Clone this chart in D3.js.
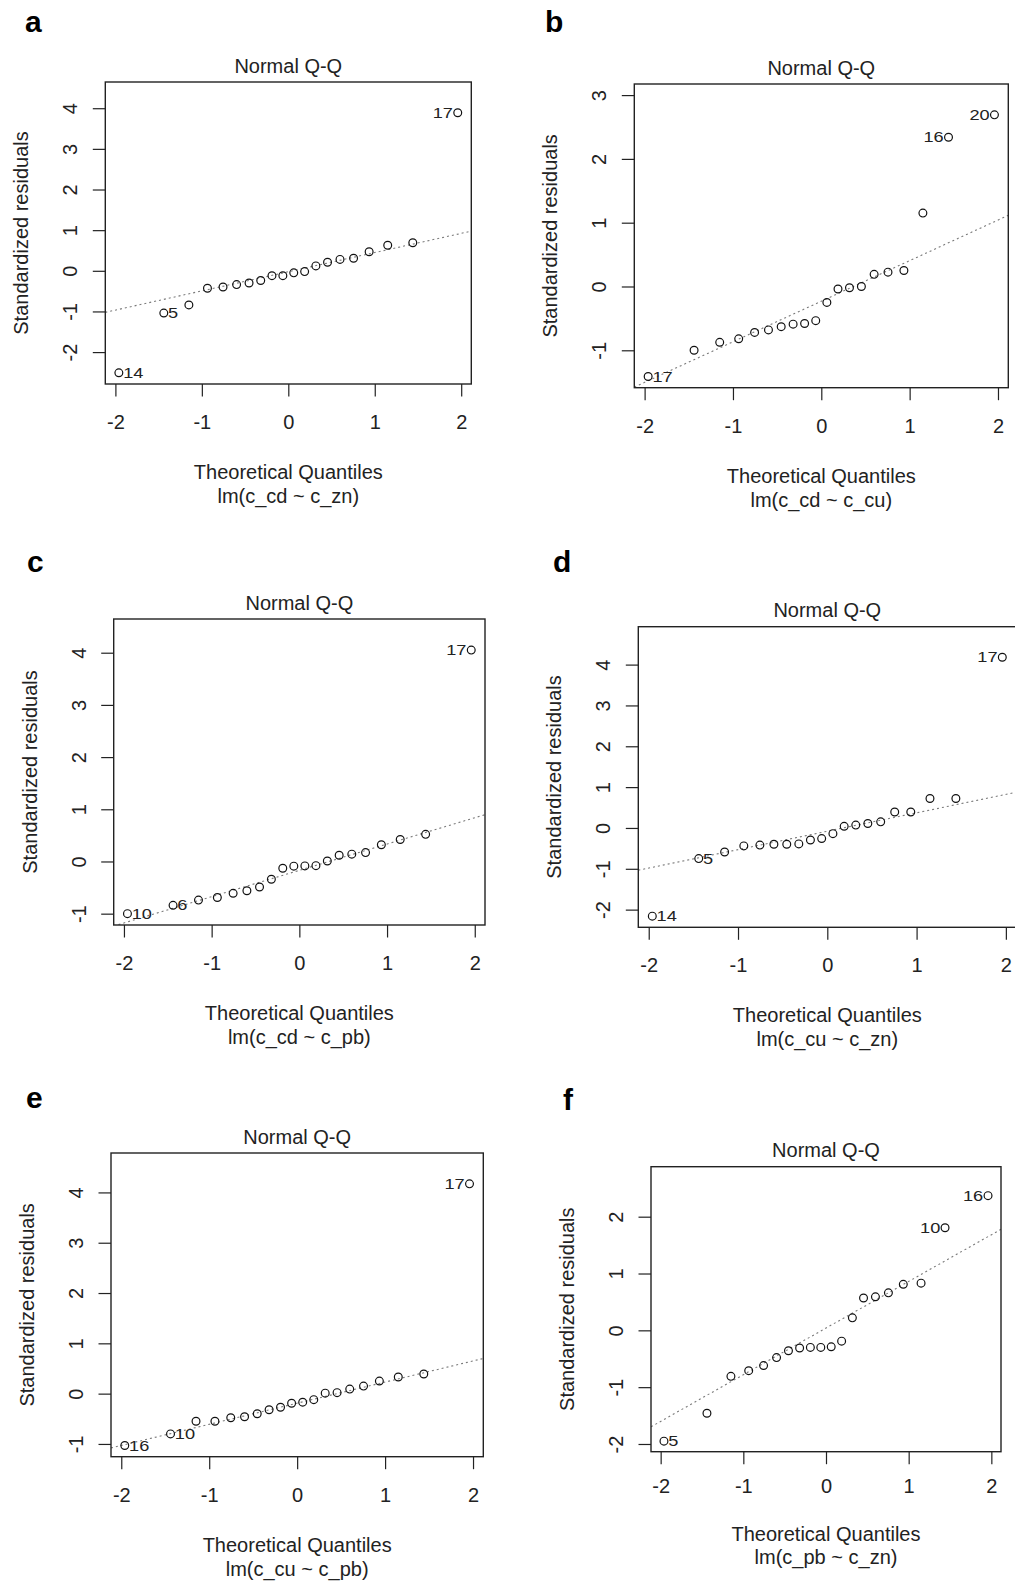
<!DOCTYPE html>
<html lang="en">
<head>
<meta charset="UTF-8">
<title>Normal Q-Q</title>
<script src="https://cdn.jsdelivr.net/npm/d3@7"></script>
<style>
  body { margin: 0; background: #fff; }
  text { font-family: "Liberation Sans", Arial, sans-serif; fill: #222; }
</style>
</head>
<body>
<script>
// theoretical quantiles (same 20 x positions in every panel)
var quantiles = [-1.96, -1.44, -1.15, -0.935, -0.755, -0.598, -0.454, -0.319, -0.189, -0.063,
                 0.063, 0.189, 0.319, 0.454, 0.598, 0.755, 0.935, 1.15, 1.44, 1.96];

// standardized residuals (sorted)
var residA = [-2.51, -1.04, -0.84, -0.43, -0.40, -0.34, -0.30, -0.24, -0.12, -0.12,
              -0.05, -0.02, 0.12, 0.21, 0.28, 0.31, 0.47, 0.63, 0.69, 3.89];
var residB = [-1.41, -1.00, -0.875, -0.82, -0.72, -0.68, -0.63, -0.59, -0.58, -0.535,
              -0.25, -0.04, -0.02, 0.00, 0.19, 0.225, 0.25, 1.15, 2.34, 2.69];
var residC = [-1.00, -0.84, -0.74, -0.69, -0.61, -0.56, -0.49, -0.34, -0.13, -0.09,
              -0.085, -0.08, 0.01, 0.12, 0.14, 0.17, 0.32, 0.42, 0.52, 4.05];
var residD = [-2.16, -0.75, -0.59, -0.44, -0.42, -0.40, -0.40, -0.39, -0.295, -0.26,
              -0.14, 0.04, 0.07, 0.11, 0.15, 0.39, 0.39, 0.72, 0.72, 4.18];
var residE = [-1.03, -0.80, -0.55, -0.55, -0.48, -0.46, -0.40, -0.32, -0.27, -0.19,
              -0.17, -0.12, 0.01, 0.02, 0.09, 0.15, 0.25, 0.33, 0.39, 4.17];
var residF = [-1.95, -1.46, -0.81, -0.71, -0.62, -0.48, -0.36, -0.31, -0.30, -0.30,
              -0.29, -0.19, 0.22, 0.57, 0.59, 0.66, 0.81, 0.83, 1.805, 2.37];

// qq reference lines: [intercept, slope]
var lineA = [-0.023, 0.472];
var lineB = [-0.231, 0.636];
var lineC = [-0.17, 0.504];
var lineD = [-0.08, 0.451];
var lineE = [-0.19, 0.42];
var lineF = [0.04, 0.821];

// labelled points: index in sorted list -> observation number
var idsA = [[0, "14"], [1, "5"], [19, "17"]];
var idsB = [[0, "17"], [18, "16"], [19, "20"]];
var idsC = [[0, "10"], [1, "6"], [19, "17"]];
var idsD = [[0, "14"], [1, "5"], [19, "17"]];
var idsE = [[0, "16"], [1, "10"], [19, "17"]];
var idsF = [[0, "5"], [18, "10"], [19, "16"]];

var xTicks = [-2, -1, 0, 1, 2];
var yTicksA = [-2, -1, 0, 1, 2, 3, 4];
var yTicksB = [-1, 0, 1, 2, 3];
var yTicksC = [-1, 0, 1, 2, 3, 4];
var yTicksD = [-2, -1, 0, 1, 2, 3, 4];
var yTicksE = [-1, 0, 1, 2, 3, 4];
var yTicksF = [-2, -1, 0, 1, 2];

var letters = ["a", "b", "c", "d", "e", "f"];
var models = ["lm(c_cd ~ c_zn)", "lm(c_cd ~ c_cu)", "lm(c_cd ~ c_pb)",
              "lm(c_cu ~ c_zn)", "lm(c_cu ~ c_pb)", "lm(c_pb ~ c_zn)"];

// plot boxes in page pixels, and where the letters sit
var boxes = [
  {l: 105.3, r: 471.3, t: 82,    b: 384,    lx: 25,  ly: 32,   tk: 45,   xt: 95,   xs: 119},
  {l: 634.3, r: 1008.3, t: 84,   b: 387.7,  lx: 545, ly: 32,   tk: 45,   xt: 95,   xs: 119},
  {l: 113.7, r: 485,   t: 619,   b: 925,    lx: 27,  ly: 572,  tk: 45,   xt: 95,   xs: 119},
  {l: 638.3, r: 1016.3, t: 626.7, b: 927.3, lx: 553, ly: 572,  tk: 45,   xt: 95,   xs: 119},
  {l: 111,   r: 483.3, t: 1153,  b: 1456.7, lx: 26,  ly: 1108, tk: 45,   xt: 95,   xs: 119},
  {l: 651,   r: 1001,  t: 1166.7, b: 1451.7, lx: 563, ly: 1110, tk: 41.5, xt: 89.5, xs: 112.5}
];

var resids = [residA, residB, residC, residD, residE, residF];
var lines = [lineA, lineB, lineC, lineD, lineE, lineF];
var ids = [idsA, idsB, idsC, idsD, idsE, idsF];
var yTicks = [yTicksA, yTicksB, yTicksC, yTicksD, yTicksE, yTicksF];

var width = 1015, height = 1589;
var svg = d3.select("body").append("svg")
    .attr("width", width).attr("height", height);
svg.append("rect").attr("width", width).attr("height", height).attr("fill", "#fff");

var fs = 20;

resids.forEach(function(res, k) {
  var bx = boxes[k];
  // R style limits: extra 7.5% on top for labels, then 4% padding
  var ymin = d3.min(res), ymax = d3.max(res);
  ymax = ymax + (ymax - ymin) * 0.075;
  var yr = ymax - ymin;
  var xmin = d3.min(quantiles), xmax = d3.max(quantiles), xr = xmax - xmin;

  var x = d3.scaleLinear().domain([xmin - 0.04 * xr, xmax + 0.04 * xr]).range([bx.l, bx.r]);
  var y = d3.scaleLinear().domain([ymin - 0.04 * yr, ymax + 0.04 * yr]).range([bx.b, bx.t]);

  var g = svg.append("g");

  g.append("text").attr("x", bx.lx).attr("y", bx.ly)
    .style("font-size", "30px").style("font-weight", "bold").style("fill", "#000")
    .text(letters[k]);

  var cid = "clip" + k;
  g.append("clipPath").attr("id", cid).append("rect")
    .attr("x", bx.l).attr("y", bx.t).attr("width", bx.r - bx.l).attr("height", bx.b - bx.t);

  // dotted qq line
  var ln = lines[k];
  var xd = x.domain();
  g.append("line")
    .attr("clip-path", "url(#" + cid + ")")
    .attr("x1", x(xd[0])).attr("y1", y(ln[0] + ln[1] * xd[0]))
    .attr("x2", x(xd[1])).attr("y2", y(ln[0] + ln[1] * xd[1]))
    .attr("stroke", "#7a7a7a").attr("stroke-width", 1.1)
    .attr("stroke-dasharray", "2,3");

  // points
  g.selectAll("circle.pt").data(res).enter().append("circle")
    .attr("class", "pt")
    .attr("cx", function(d, i) { return x(quantiles[i]); })
    .attr("cy", function(d) { return y(d); })
    .attr("r", 3.9)
    .attr("fill", "none").attr("stroke", "#111").attr("stroke-width", 1.2);

  // id labels: right of point on the left half, left of point on the right half
  g.selectAll("text.id").data(ids[k]).enter().append("text")
    .attr("class", "id")
    .attr("transform", function(d) {
      var q = quantiles[d[0]];
      var px = x(q) + (q < 0 ? 4.3 : -4.8);
      return "translate(" + px + "," + y(res[d[0]]) + ") scale(1.3,1)";
    })
    .attr("dy", "0.36em")
    .attr("text-anchor", function(d) { return quantiles[d[0]] < 0 ? "start" : "end"; })
    .style("font-size", "14px")
    .text(function(d) { return d[1]; });

  // box
  g.append("rect").attr("x", bx.l).attr("y", bx.t)
    .attr("width", bx.r - bx.l).attr("height", bx.b - bx.t)
    .attr("fill", "none").attr("stroke", "#222").attr("stroke-width", 1.4);

  // x axis
  var xa = g.append("g").attr("transform", "translate(0," + bx.b + ")")
    .call(d3.axisBottom(x).tickValues(xTicks).tickSize(12.5).tickPadding(0)
      .tickFormat(function(d) { return d; }));
  xa.select(".domain").remove();
  xa.selectAll("line").attr("stroke", "#222").attr("stroke-width", 1.2);
  xa.selectAll("text").attr("y", bx.tk).attr("dy", null)
    .style("font-size", fs + "px").style("font-family", "Liberation Sans, Arial, sans-serif")
    .attr("fill", "#222");

  // y axis, labels parallel to the axis
  var ya = g.append("g").attr("transform", "translate(" + bx.l + ",0)")
    .call(d3.axisLeft(y).tickValues(yTicks[k]).tickSize(12.5)
      .tickFormat(function(d) { return d; }));
  ya.select(".domain").remove();
  ya.selectAll("line").attr("stroke", "#222").attr("stroke-width", 1.2);
  ya.selectAll("text")
    .attr("x", 0).attr("dy", null)
    .attr("transform", "translate(-28,0) rotate(-90)")
    .attr("text-anchor", "middle")
    .style("font-size", fs + "px").style("font-family", "Liberation Sans, Arial, sans-serif")
    .attr("fill", "#222");

  var cx = (bx.l + bx.r) / 2;
  g.append("text").attr("x", cx).attr("y", bx.t - 9.5)
    .attr("text-anchor", "middle").style("font-size", fs + "px").text("Normal Q-Q");
  g.append("text").attr("x", cx).attr("y", bx.b + bx.xt)
    .attr("text-anchor", "middle").style("font-size", fs + "px").text("Theoretical Quantiles");
  g.append("text").attr("x", cx).attr("y", bx.b + bx.xs)
    .attr("text-anchor", "middle").style("font-size", fs + "px").text(models[k]);
  g.append("text")
    .attr("transform", "translate(" + (bx.l - 77) + "," + ((bx.t + bx.b) / 2) + ") rotate(-90)")
    .attr("text-anchor", "middle").style("font-size", fs + "px").text("Standardized residuals");
});
</script>
</body>
</html>
